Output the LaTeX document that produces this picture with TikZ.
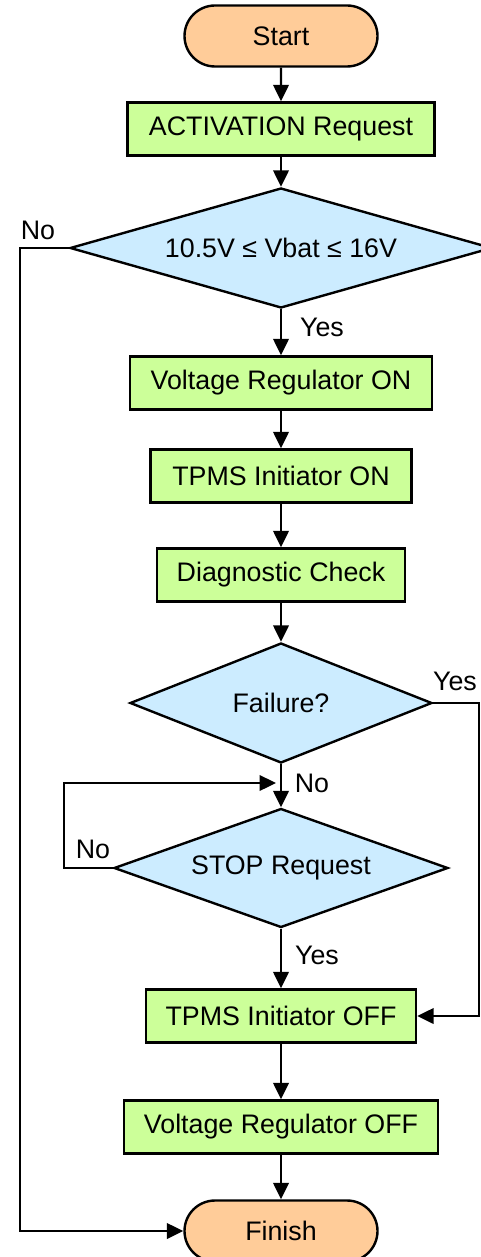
\documentclass[tikz,border=0pt]{standalone}
\usepackage{fontspec}
\setmainfont{Liberation Sans}
\usepackage{tikz}
\usetikzlibrary{arrows,arrows.meta,calc,positioning,shapes}
\tikzset{
  flownode/.style = {align=center, inner sep=2pt, draw=black, line width=2.4pt, text=black,
  text centered, font=\fontsize{26.8}{30}\selectfont},
  fl_term/.style = {flownode, rounded rectangle, fill=my_orange, minimum width=197pt, minimum height=61pt},
  fl_proc/.style = {flownode, rectangle, fill=my_green, minimum height=53pt},
  fl_dec/.style = {flownode, diamond, fill=my_blue, inner sep=0pt, minimum height=120pt},
  fl_lbl/.style = {inner sep=0pt, font=\fontsize{26.8}{30}\selectfont}
}
\definecolor{my_orange}{RGB}{255, 204, 153}
\definecolor{my_green}{RGB}{204, 255, 153}
\definecolor{my_blue}{RGB}{204, 236, 255}

\begin{document}
\begin{tikzpicture}[->,>={Triangle[length=16.5pt,width=15.5pt]},x=1pt,y=-1pt,
            every path/.style={line width=2.4pt}]
            \useasboundingbox (0,0) rectangle (480,1257);
            \node [fl_term] (start) at (281,36) {Start};
            \node [fl_proc, minimum width=307pt] (act) at (281,129) {ACTIVATION Request};
            \node [fl_dec, shape aspect=3.5, minimum width=422pt] (vbat) at (281,248) {10.5V ≤ Vbat ≤ 16V};
            \node [fl_proc, minimum width=302pt] (vregon) at (281,383) {Voltage Regulator ON};
            \node [fl_proc, minimum width=261pt] (tpmson) at (281,476) {TPMS Initiator ON};
            \node [fl_proc, minimum width=248pt] (diag) at (281,575) {Diagnostic Check};
            \node [fl_dec, shape aspect=2.5, minimum width=302pt] (fail) at (281,703) {Failure?};
            \node [fl_dec, shape aspect=2.8, minimum width=334pt, minimum height=119pt] (stop) at (281,868) {STOP Request};
            \node [fl_proc, minimum width=270pt] (tpmsoff) at (281,1016) {TPMS Initiator OFF};
            \node [fl_proc, minimum width=314pt] (vregoff) at (281,1127) {Voltage Regulator OFF};
            \node [fl_term] (finish) at (281,1231) {Finish};
            \coordinate (join) at (281,783);

            % labels
            \node [fl_lbl] (no_vbat) at (38,230) {No};
            \node [fl_lbl] (yes_vbat) at (322,327) {Yes};
            \node [fl_lbl] (yes_fail) at (455,681) {Yes};
            \node [fl_lbl] (no_fail) at (312,783) {No};
            \node [fl_lbl] (no_stop) at (93,849) {No};
            \node [fl_lbl] (yes_stop) at (317,955) {Yes};

            \draw (start) -- (act);
            \draw (act) -- (vbat);
            \draw (vbat) -- (vregon);
            \draw (vregon) -- (tpmson);
            \draw (tpmson) -- (diag);
            \draw (diag) -- (fail);
            \draw (fail) -- (stop);
            \draw (stop) -- (tpmsoff);
            \draw (tpmsoff) -- (vregoff);
            \draw (vregoff) -- (finish);
            \draw (vbat.west) -- ++(-49,0) |- (finish.west);
            \draw (fail.east) -- ++(46,0) |- (tpmsoff.east);
            \draw (stop.west) -- ++(-49,0) |- ([xshift=-5pt]join);
        \end{tikzpicture}
\end{document}
